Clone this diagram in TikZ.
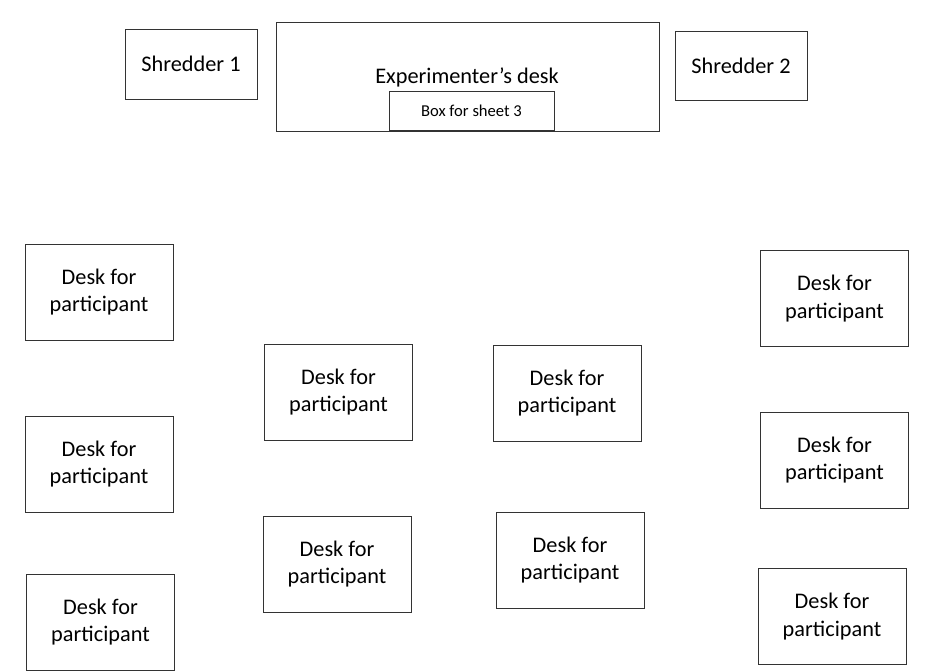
\documentclass[tikz,border=0pt]{standalone}
\usepackage{fontspec}
\setmainfont{Carlito}
\begin{document}
\begin{tikzpicture}[x=1pt,y=-1pt,
  box/.style={draw=black!80,line width=0.9pt,inner sep=0pt,align=center,
    font=\fontsize{22.3}{27.5}\selectfont},
  desk/.style={box,minimum width=148pt,minimum height=96pt}]
\useasboundingbox (0,0) rectangle (932,670);
\node[box,minimum width=132pt,minimum height=70pt] (sh1) at (191,64) {Shredder 1};
\node[box,minimum width=383pt,minimum height=109pt] (exp) at (467.5,76.5) {};
\node[font=\fontsize{22.3}{27.5}\selectfont,inner sep=0pt] (explabel) at (467,77) {Experimenter’s desk};
\node[box,minimum width=165pt,minimum height=39pt,font=\fontsize{16.6}{20}\selectfont,fill=white] (sheet) at (471.5,110.5) {Box for sheet 3};
\node[box,minimum width=132pt,minimum height=69pt] (sh2) at (741,65.5) {Shredder 2};
\node[desk] (d1) at (99,292) {Desk for\\participant};
\node[desk] (d2) at (99,464) {Desk for\\participant};
\node[desk] (d3) at (100.5,622) {Desk for\\participant};
\node[desk] (d4) at (338.5,392) {Desk for\\participant};
\node[desk] (d5) at (337,564) {Desk for\\participant};
\node[desk] (d6) at (567,393) {Desk for\\participant};
\node[desk] (d7) at (570,560) {Desk for\\participant};
\node[desk] (d8) at (834.5,298.5) {Desk for\\participant};
\node[desk] (d9) at (834.5,460) {Desk for\\participant};
\node[desk] (d10) at (832,616.5) {Desk for\\participant};
\end{tikzpicture}
\end{document}
